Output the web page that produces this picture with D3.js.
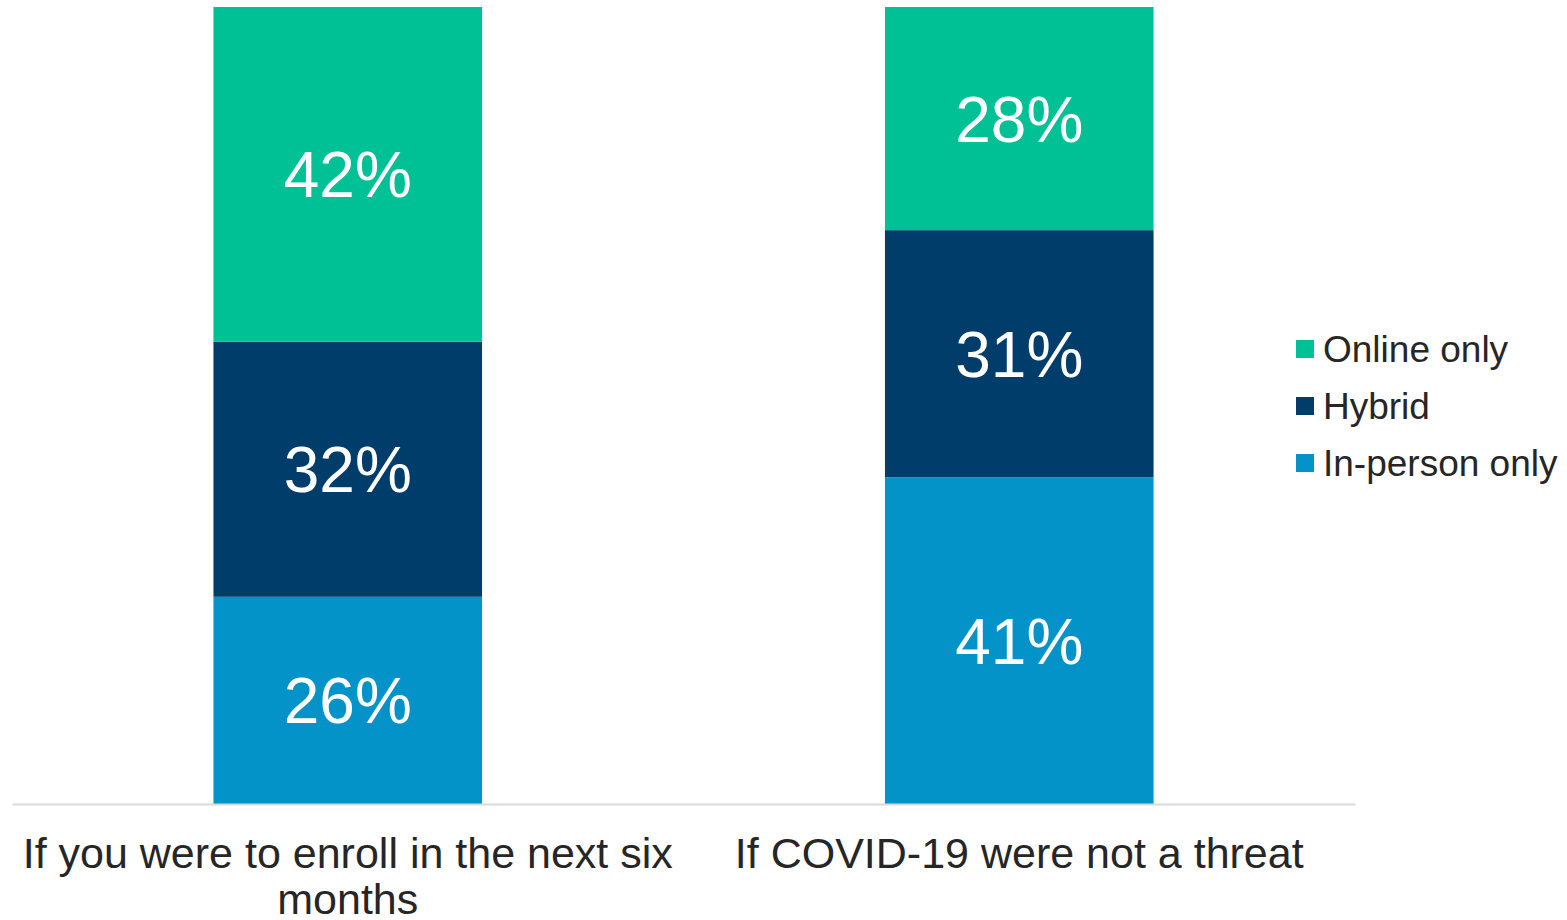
<!DOCTYPE html>
<html>
<head>
<meta charset="utf-8">
<script src="https://cdn.jsdelivr.net/npm/d3@7"></script>
<style>
  html, body { margin: 0; padding: 0; background: #fff; }
  svg { display: block; font-family: "Liberation Sans", Arial, sans-serif; }
</style>
</head>
<body>
<svg id="chart" width="1567" height="920"></svg>
<script>
// Survey categories (x axis) and stacked series, bottom to top
const categories = [
  "If you were to enroll in the next six months",
  "If COVID-19 were not a threat"
];
const seriesNames = ["In-person only", "Hybrid", "Online only"];
const inPerson = [26, 41];
const hybrid = [32, 31];
const online = [42, 28];
const legendOrder = ["Online only", "Hybrid", "In-person only"];

const colors = {
  "In-person only": "#0393c9",
  "Hybrid": "#003d6b",
  "Online only": "#00c096"
};

const rows = categories.map((c, i) => ({
  category: c,
  "In-person only": inPerson[i],
  "Hybrid": hybrid[i],
  "Online only": online[i]
}));

const svg = d3.select("#chart");
const plot = { left: 12, right: 1355, top: 7, bottom: 804 };

const x = d3.scaleBand()
  .domain(categories)
  .range([plot.left, plot.right])
  .paddingInner(0.6)
  .paddingOuter(0.3);

const y = d3.scaleLinear()
  .domain([0, 100])
  .range([plot.bottom, plot.top]);

const stack = d3.stack().keys(seriesNames);
const layers = stack(rows);

const g = svg.append("g");

layers.forEach(layer => {
  const key = layer.key;
  g.selectAll(null)
    .data(layer)
    .join("rect")
    .attr("x", d => x(d.data.category))
    .attr("width", x.bandwidth())
    .attr("y", d => y(d[1]))
    .attr("height", d => y(d[0]) - y(d[1]))
    .attr("fill", colors[key]);

  g.selectAll(null)
    .data(layer)
    .join("text")
    .attr("x", d => x(d.data.category) + x.bandwidth() / 2)
    .attr("y", d => (y(d[0]) + y(d[1])) / 2)
    .attr("dy", "0.36em")
    .attr("text-anchor", "middle")
    .attr("fill", "#ffffff")
    .attr("font-size", 64)
    .text(d => (d[1] - d[0]) + "%");
});

// Baseline axis
const xAxis = d3.axisBottom(x).tickSize(0).tickFormat("");
const axisG = svg.append("g")
  .attr("transform", `translate(0,${plot.bottom})`)
  .call(xAxis);
axisG.select(".domain").attr("stroke", "#d9d9d9").attr("stroke-width", 2);

// Category labels, wrapped to the available width
const labelWrap = 660;
categories.forEach(c => {
  const cx = x(c) + x.bandwidth() / 2;
  const t = svg.append("text")
    .attr("x", cx)
    .attr("y", 868)
    .attr("text-anchor", "middle")
    .attr("fill", "#262626")
    .attr("font-size", 43);
  const words = c.split(" ");
  let line = [];
  let tspan = t.append("tspan").attr("x", cx).attr("dy", 0);
  words.forEach(w => {
    line.push(w);
    tspan.text(line.join(" "));
    if (tspan.node().getComputedTextLength() > labelWrap && line.length > 1) {
      line.pop();
      tspan.text(line.join(" "));
      line = [w];
      tspan = t.append("tspan")
        .attr("x", cx)
        .attr("dy", 46)
        .text(w);
    }
  });
});

// Legend
const legend = svg.append("g").attr("transform", "translate(1296,349)");
legendOrder.forEach((name, i) => {
  const row = legend.append("g").attr("transform", `translate(0,${i * 57})`);
  row.append("rect")
    .attr("x", 0).attr("y", -9)
    .attr("width", 18).attr("height", 18)
    .attr("fill", colors[name]);
  row.append("text")
    .attr("x", 27).attr("y", 0)
    .attr("dy", "0.36em")
    .attr("fill", "#262626")
    .attr("font-size", 37)
    .text(name);
});
</script>
</body>
</html>
